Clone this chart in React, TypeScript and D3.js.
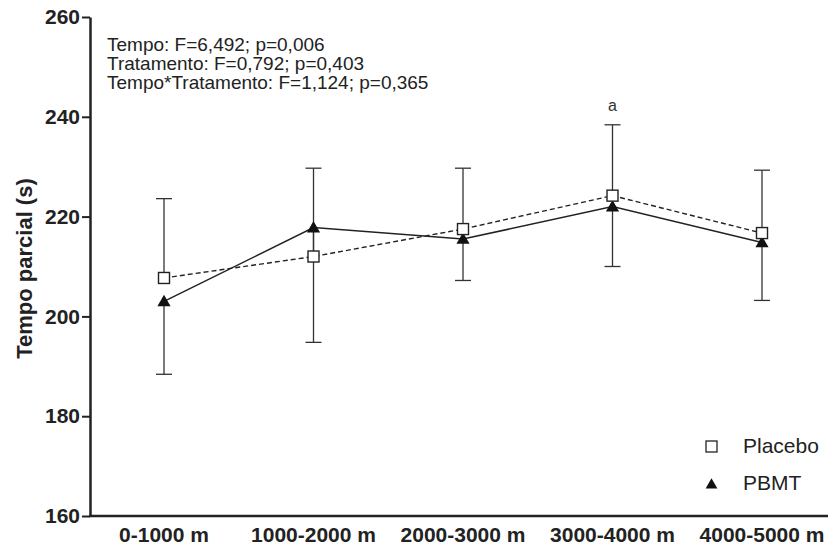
import React, { useEffect, useRef } from "react";
import * as d3 from "d3";

const categories = ["0-1000 m", "1000-2000 m", "2000-3000 m", "3000-4000 m", "4000-5000 m"];
const placeboMean = [207.7, 212.0, 217.5, 224.2, 216.7];
const placeboErr = [15.9, 17.7, 12.2, 14.2, 12.6];
const pbmtMean = [203.0, 217.8, 215.5, 222.0, 214.8];
const pbmtErr = [14.6, 23.0, 8.3, 12.0, 11.6];
const yTicks = [160, 180, 200, 220, 240, 260];
const statsLines = [
  "Tempo: F=6,492; p=0,006",
  "Tratamento: F=0,792; p=0,403",
  "Tempo*Tratamento: F=1,124; p=0,365",
];

const App = () => {
  const ref = useRef<SVGSVGElement>(null);

  useEffect(() => {
    const svg = d3.select(ref.current);
    svg.selectAll("*").remove();

    const font = "Arial, 'Liberation Sans', sans-serif";
    const left = 90, top = 17, bottom = 516, right = 828;

    const x = d3.scalePoint<string>()
      .domain(categories)
      .range([164, 762]);
    const y = d3.scaleLinear().domain([160, 260]).range([bottom, top]);

    // axes
    const yAxis = svg.append("g")
      .attr("transform", `translate(${left},0)`)
      .call(d3.axisLeft(y).tickValues(yTicks).tickSize(8).tickSizeOuter(0).tickPadding(2));
    yAxis.select(".domain").attr("stroke", "#222").attr("stroke-width", 2.5);
    yAxis.selectAll(".tick line").attr("stroke", "#222").attr("stroke-width", 2);
    yAxis.selectAll(".tick text")
      .attr("font-family", font).attr("font-size", 21).attr("font-weight", "bold").attr("fill", "#222");

    svg.append("line")
      .attr("x1", left - 1).attr("x2", right).attr("y1", bottom).attr("y2", bottom)
      .attr("stroke", "#222").attr("stroke-width", 2.5);

    svg.append("g").selectAll("text").data(categories).enter().append("text")
      .attr("x", d => x(d)!).attr("y", 542)
      .attr("text-anchor", "middle")
      .attr("font-family", font).attr("font-size", 21).attr("font-weight", "bold").attr("fill", "#222")
      .text(d => d);

    svg.append("text")
      .attr("transform", `translate(32,${(top + bottom) / 2 + 2}) rotate(-90)`)
      .attr("text-anchor", "middle")
      .attr("font-family", font).attr("font-size", 22).attr("font-weight", "bold").attr("fill", "#222")
      .text("Tempo parcial (s)");

    // error bars: placebo upward, PBMT downward
    const cap = 8;
    const errG = svg.append("g").attr("stroke", "#333").attr("stroke-width", 1.3);
    categories.forEach((c, i) => {
      const cx = x(c)!;
      const pTop = y(placeboMean[i] + placeboErr[i]);
      const bBot = y(pbmtMean[i] - pbmtErr[i]);
      errG.append("line").attr("x1", cx).attr("x2", cx).attr("y1", y(placeboMean[i])).attr("y2", pTop);
      errG.append("line").attr("x1", cx - cap).attr("x2", cx + cap).attr("y1", pTop).attr("y2", pTop);
      errG.append("line").attr("x1", cx).attr("x2", cx).attr("y1", y(pbmtMean[i])).attr("y2", bBot);
      errG.append("line").attr("x1", cx - cap).attr("x2", cx + cap).attr("y1", bBot).attr("y2", bBot);
    });

    const line = d3.line<number>().x((_, i) => x(categories[i])!).y(d => y(d));

    svg.append("path").datum(placeboMean)
      .attr("d", line).attr("fill", "none").attr("stroke", "#222")
      .attr("stroke-width", 1.4).attr("stroke-dasharray", "5,3");
    svg.append("path").datum(pbmtMean)
      .attr("d", line).attr("fill", "none").attr("stroke", "#222").attr("stroke-width", 1.5);

    const tri = d3.symbol().type(d3.symbolTriangle).size(75);
    svg.append("g").selectAll("path").data(pbmtMean).enter().append("path")
      .attr("d", tri)
      .attr("transform", (d, i) => `translate(${x(categories[i])},${y(d) + 1})`)
      .attr("fill", "#111");

    svg.append("g").selectAll("rect").data(placeboMean).enter().append("rect")
      .attr("x", (d, i) => x(categories[i])! - 5.5)
      .attr("y", d => y(d) - 5.5)
      .attr("width", 11).attr("height", 11)
      .attr("fill", "white").attr("stroke", "#222").attr("stroke-width", 1.4);

    // significance marker
    svg.append("text")
      .attr("x", x(categories[3])!).attr("y", 111)
      .attr("text-anchor", "middle")
      .attr("font-family", font).attr("font-size", 16).attr("fill", "#333")
      .text("a");

    // stats text
    svg.append("g").selectAll("text").data(statsLines).enter().append("text")
      .attr("x", 107).attr("y", (d, i) => 51 + i * 19)
      .attr("font-family", font).attr("font-size", 19).attr("fill", "#222")
      .text(d => d);

    // legend
    const lg = svg.append("g");
    lg.append("rect").attr("x", 706).attr("y", 441).attr("width", 11).attr("height", 11)
      .attr("fill", "white").attr("stroke", "#222").attr("stroke-width", 1.3);
    lg.append("path").attr("d", d3.symbol().type(d3.symbolTriangle).size(60))
      .attr("transform", "translate(711.5,485)").attr("fill", "#111");
    lg.append("text").attr("x", 743).attr("y", 453)
      .attr("font-family", font).attr("font-size", 21).attr("fill", "#222").text("Placebo");
    lg.append("text").attr("x", 743).attr("y", 490)
      .attr("font-family", font).attr("font-size", 21).attr("fill", "#222").text("PBMT");
  }, []);

  return (
    <svg ref={ref} width={828} height={549}
      style={{ position: "absolute", left: 0, top: 0, background: "white" }} />
  );
};

export default App;
